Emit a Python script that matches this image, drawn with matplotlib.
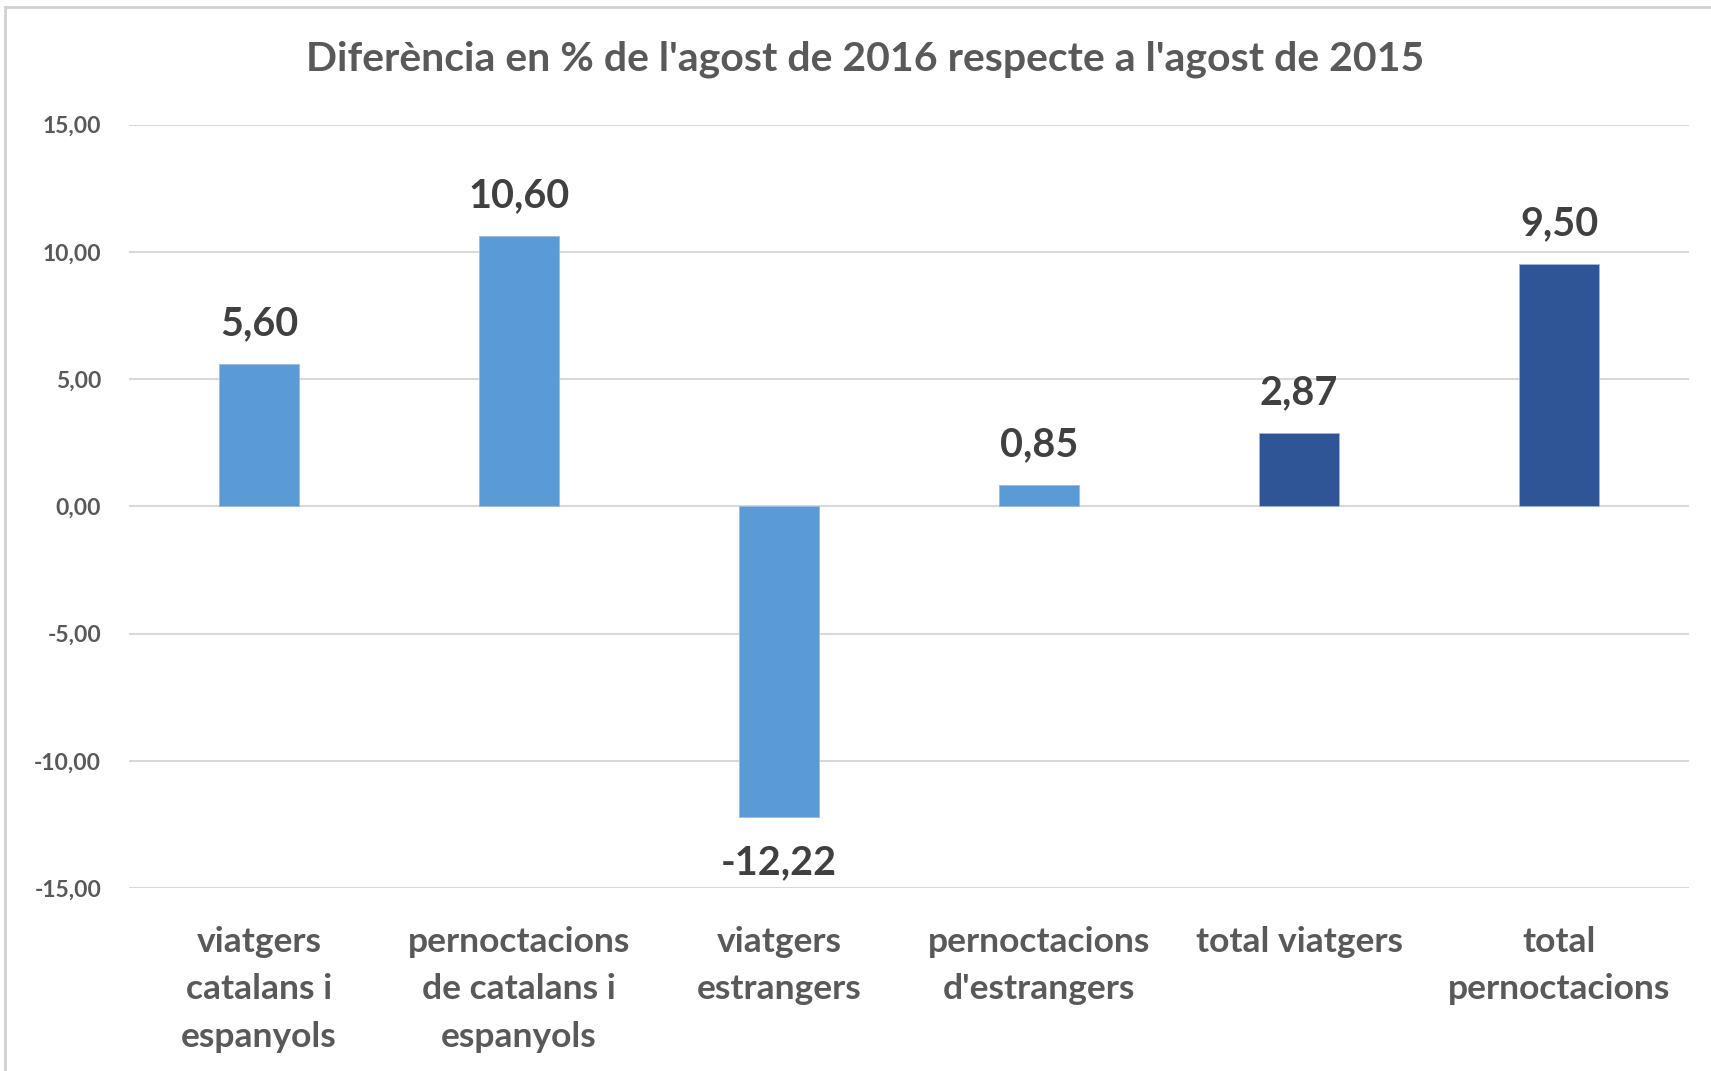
import matplotlib.pyplot as plt
from matplotlib.patches import Rectangle
import numpy as np

categories = ["viatgers\ncatalans i\nespanyols",
              "pernoctacions\nde catalans i\nespanyols",
              "viatgers\nestrangers",
              "pernoctacions\nd'estrangers",
              "total viatgers",
              "total\npernoctacions"]
valors = [5.60, 10.60, -12.22, 0.85, 2.87, 9.50]
colors = ["#5B9BD5", "#5B9BD5", "#5B9BD5", "#5B9BD5", "#2F5597", "#2F5597"]
yticks = [-15, -10, -5, 0, 5, 10, 15]
titol = "Diferència en % de l'agost de 2016 respecte a l'agost de 2015"

plt.rcParams['font.family'] = ['Lato', 'DejaVu Sans']

fig = plt.figure(figsize=(17.11, 10.71), dpi=100)
ax = fig.add_axes([129/1711, 183/1071, 1560/1711, 763.5/1071])

x = np.arange(len(valors))
bars = ax.bar(x, valors, width=0.31, color=colors, edgecolor="#9DB9E0", linewidth=0.6, zorder=3)

ax.set_xlim(-0.5, len(valors) - 0.5)
ax.set_ylim(-15, 15)
ax.set_yticks(yticks)
ax.set_yticklabels([f"{v:.2f}".replace(".", ",") for v in yticks], fontsize=16.5,
                   fontweight="bold", color="#595959")
ax.set_xticks(x)
ax.set_xticklabels(categories, fontsize=25.5, fontweight="bold", color="#595959", linespacing=1.6)
ax.tick_params(axis="y", length=0, pad=20)
ax.tick_params(axis="x", length=0, pad=27)
ax.grid(axis="y", color="#D9D9D9", linewidth=1.5, zorder=0)
for s in ax.spines.values():
    s.set_visible(False)

for xi, v in zip(x, valors):
    txt = f"{v:.2f}".replace(".", ",")
    off = 29 if v >= 0 else -33
    ax.annotate(txt, (xi, v), xytext=(0, off), textcoords="offset points",
                ha="center", va="center", fontsize=28.5, fontweight="bold", color="#404040")

fig.text(865/1711, 1 - 59/1071, titol, ha="center", va="center",
         fontsize=29.5, fontweight="bold", color="#595959")

# light frame of the screenshot
fig.patches.append(Rectangle((5/1711, -0.1), 1.2, (1071 - 7)/1071 + 0.1,
                             transform=fig.transFigure, fill=False,
                             edgecolor="#D0D0D0", linewidth=2))

fig.savefig("out.png", dpi=100)
